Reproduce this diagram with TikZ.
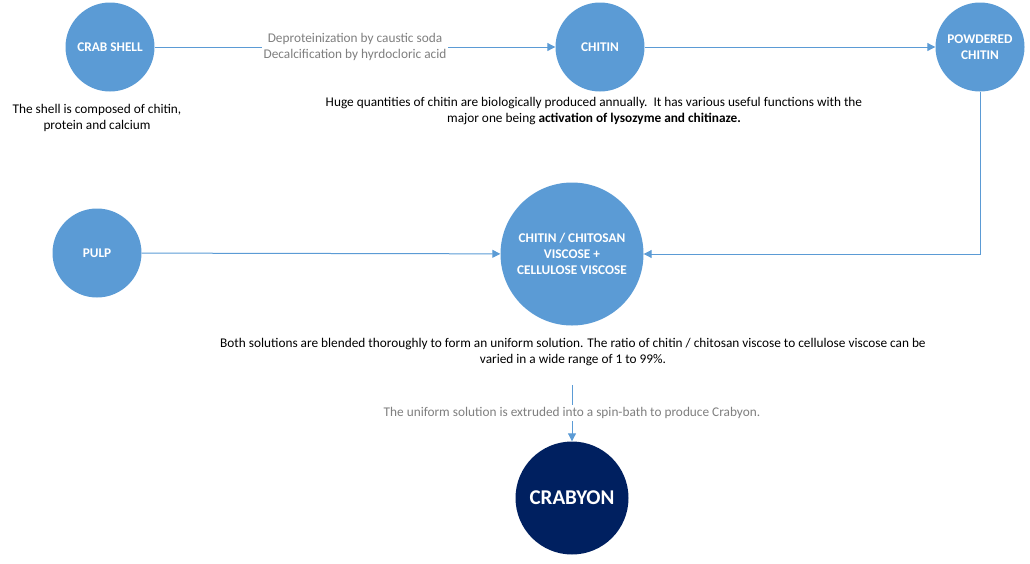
\documentclass[tikz,border=0pt]{standalone}
\usepackage{fontspec}
\setmainfont{Carlito}
\usetikzlibrary{arrows.meta}
\definecolor{cblue}{HTML}{5B9BD5}
\definecolor{cnavy}{HTML}{002060}
\definecolor{cgray}{HTML}{7F7F7F}
\tikzset{
  bubble/.style={circle, fill=cblue, draw=none, inner sep=0pt, text=white, align=center,
    font=\fontsize{13.3}{16.3}\selectfont\bfseries},
  final/.style={circle, fill=cnavy, draw=none, inner sep=0pt, text=white, align=center,
    font=\fontsize{21}{25}\selectfont\bfseries},
  note/.style={align=center, text=black, inner sep=0pt, font=\fontsize{13.3}{16.5}\selectfont},
  lbl/.style={align=center, text=cgray, fill=white, inner sep=2pt, font=\fontsize{13.3}{16.3}\selectfont},
  conn/.style={draw=cblue, line width=1pt, -{Triangle[length=8pt,width=8pt]}},
}
\begin{document}
\begin{tikzpicture}[x=1pt,y=-1pt]
\useasboundingbox (0,0) rectangle (1030,563);
\node[bubble, minimum size=89pt] (crab) at (110,47) {CRAB SHELL};
\node[bubble, minimum size=89pt] (chitin) at (600,47) {CHITIN};
\node[bubble, minimum size=89pt] (powder) at (980,47) {POWDERED\\CHITIN};
\node[bubble, minimum size=89pt] (pulp) at (97,253) {PULP};
\node[bubble, minimum size=143pt] (blend) at (572,254) {CHITIN / CHITOSAN\\VISCOSE +\\CELLULOSE VISCOSE};
\node[final, minimum size=113pt] (crabyon) at (572,498) {CRABYON};

\node[note] (shelltxt) at (97,118) {The shell is composed of chitin,\\protein and calcium};
\node[note] (hugetxt) at (594,111) {Huge quantities of chitin are biologically produced annually.\ \ It has various useful functions with the\\major one being \textbf{activation of lysozyme and chitinaze.}};
\node[note] (bothtxt) at (573,352) {Both solutions are blended thoroughly to form an uniform solution. The ratio of chitin / chitosan viscose to cellulose viscose can be\\varied in a wide range of 1 to 99\%.};

\coordinate (start) at (572,385);

\draw[conn] (crab) -- node[lbl] (proc) {Deproteinization by caustic soda\\Decalcification by hyrdocloric acid} (chitin);
\draw[conn] (chitin) -- (powder);
\draw[conn] (powder) |- (blend);
\draw[conn] (pulp) -- (blend);
\draw[conn] (start) -- node[lbl] (spin) {The uniform solution is extruded into a spin-bath to produce Crabyon.} (crabyon);
\end{tikzpicture}
\end{document}
